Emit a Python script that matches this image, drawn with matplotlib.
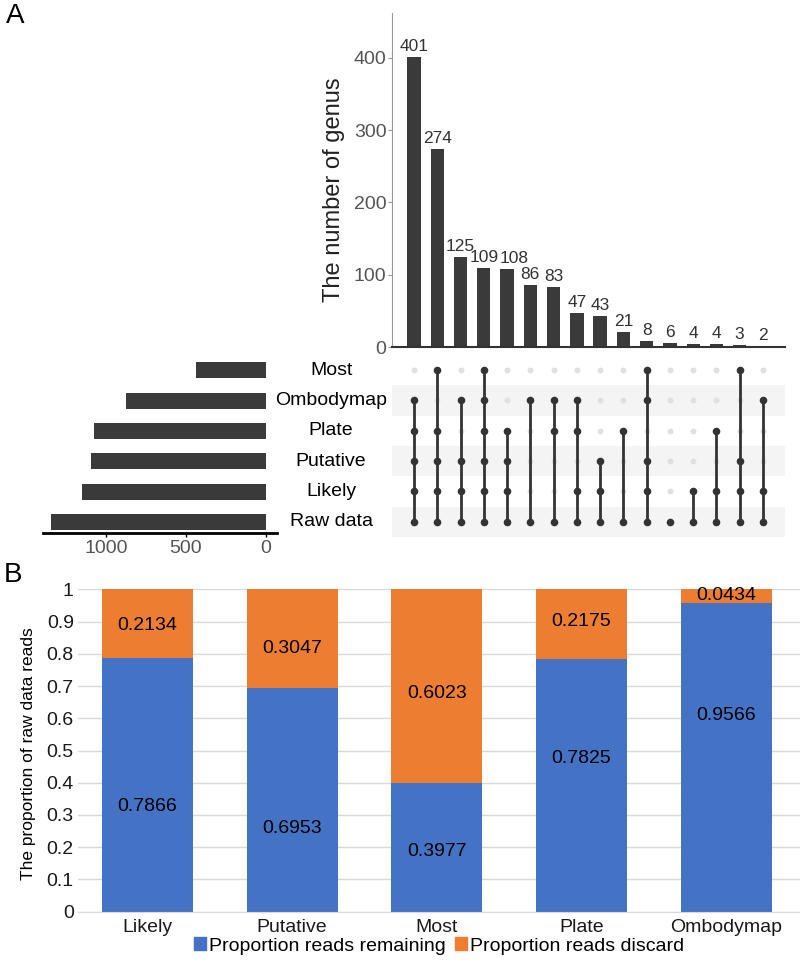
import matplotlib.pyplot as plt
from matplotlib.patches import Patch
from matplotlib.transforms import blended_transform_factory
import numpy as np

plt.rcParams['font.family'] = ['Liberation Sans', 'DejaVu Sans']

# ---- Panel A data (UpSet plot) ----
set_names = ['Most', 'Ombodymap', 'Plate', 'Putative', 'Likely', 'Raw data']
set_sizes = [440, 875, 1075, 1095, 1150, 1345]
inter_counts = [401, 274, 125, 109, 108, 86, 83, 47, 43, 21, 8, 6, 4, 4, 3, 2]
inter_members = [
    ['Ombodymap', 'Plate', 'Putative', 'Likely', 'Raw data'],
    ['Most', 'Plate', 'Putative', 'Likely', 'Raw data'],
    ['Ombodymap', 'Putative', 'Likely', 'Raw data'],
    ['Most', 'Ombodymap', 'Plate', 'Putative', 'Likely', 'Raw data'],
    ['Plate', 'Putative', 'Likely', 'Raw data'],
    ['Ombodymap', 'Raw data'],
    ['Ombodymap', 'Plate', 'Raw data'],
    ['Ombodymap', 'Plate', 'Likely', 'Raw data'],
    ['Putative', 'Likely', 'Raw data'],
    ['Plate', 'Raw data'],
    ['Most', 'Ombodymap', 'Putative', 'Likely', 'Raw data'],
    ['Raw data'],
    ['Likely', 'Raw data'],
    ['Plate', 'Likely', 'Raw data'],
    ['Most', 'Putative', 'Likely', 'Raw data'],
    ['Ombodymap', 'Likely', 'Raw data'],
]

# ---- Panel B data (stacked bars) ----
groups = ['Likely', 'Putative', 'Most', 'Plate', 'Ombodymap']
remaining = [0.7866, 0.6953, 0.3977, 0.7825, 0.9566]
discard = [0.2134, 0.3047, 0.6023, 0.2175, 0.0434]
remain_label_y = [0.326, 0.259, 0.186, 0.476, 0.608]
discard_label_y = [0.889, 0.817, 0.678, 0.900, 0.980]

W, H = 800, 961
fig = plt.figure(figsize=(8, 9.61), dpi=100)


def px_axes(x0, y0, x1, y1):
    return fig.add_axes([x0 / W, 1 - y1 / H, (x1 - x0) / W, (y1 - y0) / H])


dark = '#3a3a3a'
n_int = len(inter_counts)
n_sets = len(set_names)
xs = np.arange(n_int)

# set size bars (added first so the row labels sit above them)
ax_set = px_axes(43, 355, 277, 533)
ax_set.barh(np.arange(n_sets), set_sizes, height=0.53, color=dark)
ax_set.set_xlim(1394, -69)
ax_set.set_ylim((533 - 370) / 30.4, -0.5)
ax_set.set_yticks([])
ax_set.set_xticks([1000, 500, 0])
ax_set.tick_params(axis='x', labelsize=14, labelcolor='#555555', length=3,
                   width=1, pad=2)
for s in ['top', 'right', 'left']:
    ax_set.spines[s].set_visible(False)
ax_set.spines['bottom'].set_linewidth(2)
ax_set.spines['bottom'].set_color('black')

# intersection size bars
ax_bar = px_axes(392, 13, 785, 347)
ax_bar.bar(xs, inter_counts, width=0.57, color=dark)
nudge = {4: 5}  # the 108 label is pushed right so it clears 109
for i, (x, v) in enumerate(zip(xs, inter_counts)):
    ax_bar.annotate(str(v), (x, v), xytext=(nudge.get(i, 0), 2),
                    textcoords='offset points', ha='center', va='bottom',
                    fontsize=12.5, color='#333333')
ax_bar.set_xlim(-0.95, n_int - 0.05)
ax_bar.set_ylim(0, 462)
ax_bar.set_yticks([0, 100, 200, 300, 400])
ax_bar.set_xticks([])
ax_bar.tick_params(axis='y', labelsize=14, labelcolor='#555555', color='#999999',
                   length=3, pad=1)
for s in ['top', 'right']:
    ax_bar.spines[s].set_visible(False)
ax_bar.spines['left'].set_color('#999999')
ax_bar.spines['left'].set_linewidth(0.8)
ax_bar.spines['bottom'].set_color('#333333')
ax_bar.spines['bottom'].set_linewidth(1.5)
ax_bar.text(-0.148, 0.47, 'The number of genus', transform=ax_bar.transAxes,
            rotation=90, ha='center', va='center', fontsize=17, color='#222222')

# matrix
ax_mat = px_axes(392, 355, 785, 537)
for i in range(n_sets):
    if i % 2 == 1:
        ax_mat.axhspan(i - 0.5, i + 0.5, color='#f4f4f4', zorder=0, lw=0)
for x, members in zip(xs, inter_members):
    rows = [set_names.index(m) for m in members]
    off = [r for r in range(n_sets) if r not in rows]
    ax_mat.scatter([x] * len(off), off, s=18, color='#e0e0e0', zorder=1, lw=0)
    ax_mat.plot([x, x], [min(rows), max(rows)], color='#333333', lw=2, zorder=2)
    ax_mat.scatter([x] * len(rows), rows, s=30, color='#333333', zorder=3, lw=0)
ax_mat.set_xlim(-0.95, n_int - 0.05)
ax_mat.set_ylim(n_sets - 0.5, -0.5)
ax_mat.axis('off')
lab_tr = blended_transform_factory(ax_mat.transAxes, ax_mat.transData)
for i, name in enumerate(set_names):
    ax_mat.text(-0.155, i, name, transform=lab_tr, ha='center', va='center',
                fontsize=14, color='black', clip_on=False)

# ---- Panel B ----
blue = '#4472C4'
orange = '#ED7D31'
axB = px_axes(78, 589.3, 800, 911.7)
xb = np.arange(len(groups))
axB.bar(xb, remaining, width=0.63, color=blue, zorder=2)
axB.bar(xb, discard, width=0.63, bottom=remaining, color=orange, zorder=2)
for x, r, d, ry, dy in zip(xb, remaining, discard, remain_label_y, discard_label_y):
    axB.text(x, ry, f'{r:.4f}', ha='center', va='center', fontsize=14, zorder=3)
    axB.text(x, dy, f'{d:.4f}', ha='center', va='center', fontsize=14, zorder=3)
axB.set_xlim(-0.48, 4.51)
axB.set_ylim(0, 1)
axB.set_yticks(np.arange(0, 11) / 10)
axB.set_yticklabels(['0', '0.1', '0.2', '0.3', '0.4', '0.5', '0.6', '0.7',
                     '0.8', '0.9', '1'])
axB.set_xticks(xb)
axB.set_xticklabels(groups)
axB.tick_params(axis='both', labelsize=14, length=0, pad=3, labelcolor='#1a1a1a')
axB.tick_params(axis='x', pad=5)
axB.grid(axis='y', color='#d9d9d9', lw=1, zorder=0)
for s in ['top', 'right', 'left']:
    axB.spines[s].set_visible(False)
axB.spines['bottom'].set_color('#d9d9d9')
axB.text(-0.069, 0.489, 'The proportion of raw data reads', transform=axB.transAxes,
         rotation=90, ha='center', va='center', fontsize=12.5)

handles = [Patch(color=blue, label='Proportion reads remaining'),
           Patch(color=orange, label='Proportion reads discard')]
fig.legend(handles=handles, loc='center', bbox_to_anchor=(0.549, 1 - 946 / H),
           ncol=2, frameon=False, fontsize=14, handlelength=0.6, handleheight=0.6,
           handletextpad=0.15, columnspacing=0.5, borderpad=0)

fig.text(15 / W, 1 - 16 / H, 'A', fontsize=20, ha='center', va='center')
fig.text(13 / W, 1 - 575 / H, 'B', fontsize=20, ha='center', va='center')

fig.savefig('out.png', dpi=100)
